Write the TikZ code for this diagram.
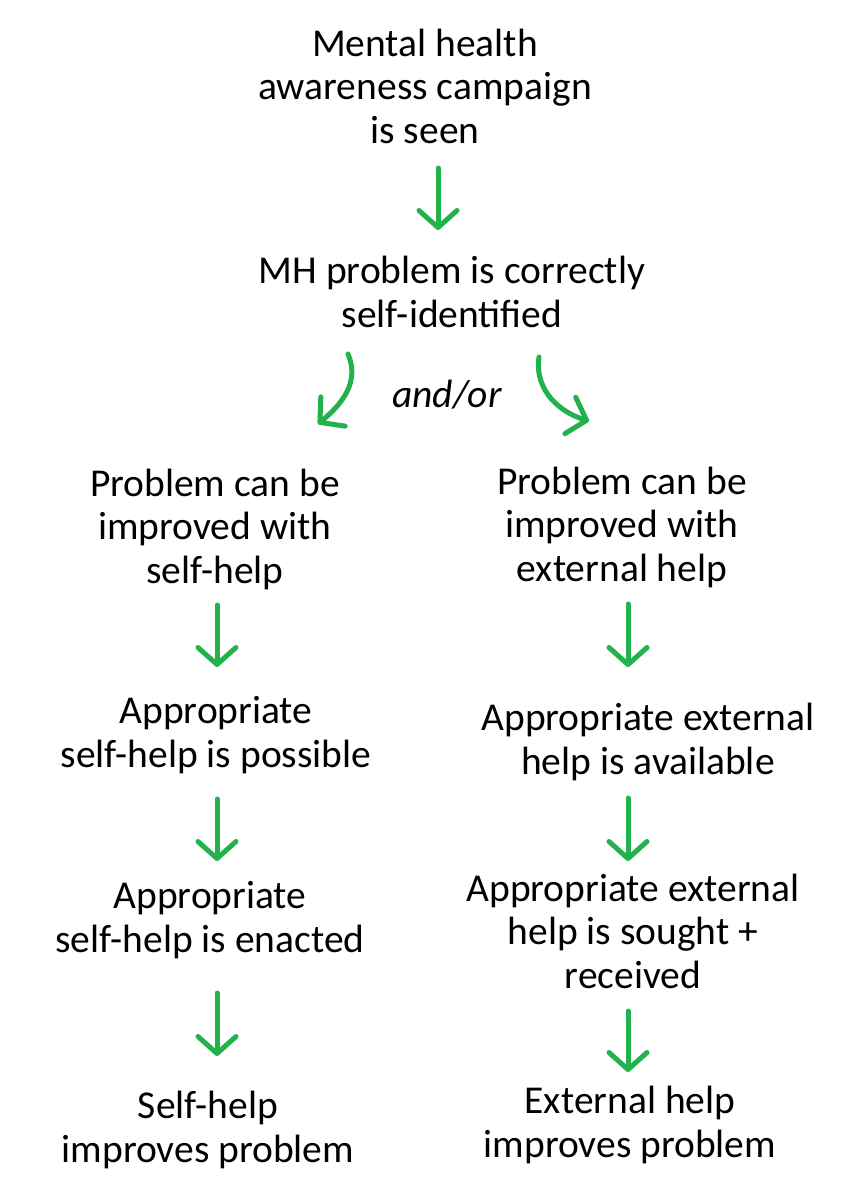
\documentclass[tikz,border=0pt]{standalone}
\usepackage{fontspec}
\setmainfont{Carlito}
\usetikzlibrary{arrows.meta}
\definecolor{arrowgreen}{RGB}{34,178,76}
\tikzset{
  txt/.style={align=center, inner sep=0pt, font=\fontsize{39.5}{43.5}\selectfont},
  garrow/.style={draw=arrowgreen, line width=5pt, line cap=round,
    -{Straight Barb[length=17pt, width=38pt, round]}},
}
\begin{document}
\begin{tikzpicture}[x=1pt,y=-1pt]
\path[use as bounding box, fill=white] (0,0) rectangle (858,1200);
% text nodes
\node[txt] (top) at (425,86) {Mental health\\awareness campaign\\is seen};
\node[txt] (mh) at (452,292) {MH problem is correctly\\self-identified};
\node[txt, font=\fontsize{39.5}{43.5}\selectfont\itshape] (andor) at (447,395) {and/or};
\node[txt] (l1) at (215,529) {Problem can be\\improved with\\self-help};
\node[txt] (r1) at (622,527) {Problem can be\\improved with\\external help};
\node[txt] (l2) at (216,735) {Appropriate\\self-help is possible};
\node[txt] (r2) at (648,742) {Appropriate external\\help is available};
\node[txt] (l3) at (210,920) {Appropriate\\self-help is enacted};
\node[txt] (r3) at (633,931) {Appropriate external\\help is sought +\\received};
\node[txt] (l4) at (208,1130) {Self-help\\improves problem};
\node[txt] (r4) at (630,1125) {External help\\improves problem};
% arrow end points
\coordinate (a1s) at (438,168);
\coordinate (a1e) at (438,230);
\coordinate (cls) at (348,354);
\coordinate (cle) at (318,424);
\coordinate (crs) at (539,357);
\coordinate (cre) at (589,421);
\coordinate (l12s) at (217,605);
\coordinate (l12e) at (217,667);
\coordinate (l23s) at (217,799);
\coordinate (l23e) at (217,861);
\coordinate (l34s) at (217,993);
\coordinate (l34e) at (217,1056);
\coordinate (r12s) at (628,604);
\coordinate (r12e) at (628,667);
\coordinate (r23s) at (628,798);
\coordinate (r23e) at (628,861);
\coordinate (r34s) at (628,1011);
\coordinate (r34e) at (628,1072);
% connectors
\draw[garrow] (a1s) -- (a1e);
\draw[garrow] (cls) .. controls (360,382) and (342,404) .. (cle);
\draw[garrow] (crs) .. controls (534,392) and (562,413) .. (cre);
\draw[garrow] (l12s) -- (l12e);
\draw[garrow] (l23s) -- (l23e);
\draw[garrow] (l34s) -- (l34e);
\draw[garrow] (r12s) -- (r12e);
\draw[garrow] (r23s) -- (r23e);
\draw[garrow] (r34s) -- (r34e);
\end{tikzpicture}
\end{document}
